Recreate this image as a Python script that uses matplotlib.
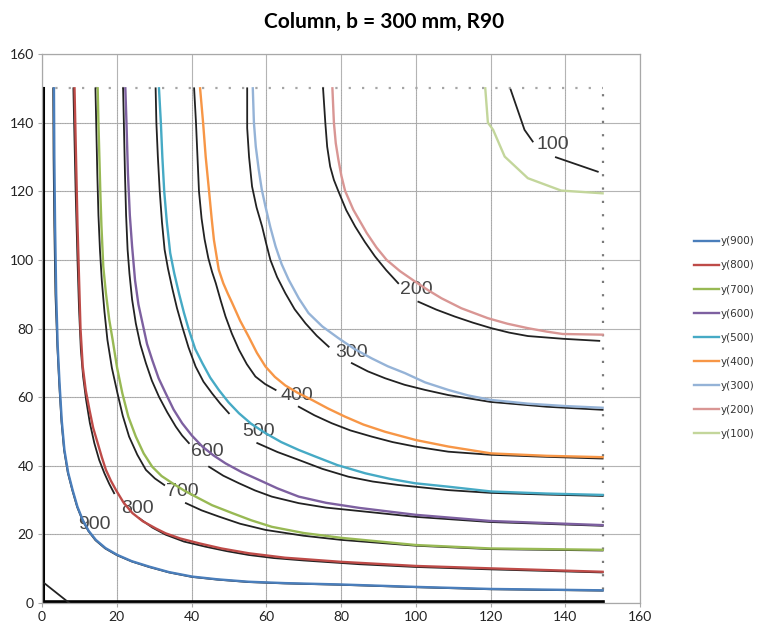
import numpy as np
import matplotlib
matplotlib.use("Agg")
from matplotlib import pyplot as plt

# coloured curves y(N)
y900_x = [3.2, 3.3, 3.5, 3.8, 4.2, 4.7, 5.3, 6.0, 7.0, 8.2, 9.5, 10.9, 12.5, 14.4, 17.0, 20.2, 24.0, 28.7, 34.0, 40.2, 47.0, 55.3, 65, 80, 100, 120, 150]
y900_y = [150, 130, 110, 90, 75, 64, 53, 44.6, 38, 32.9, 28, 24.2, 21, 18.4, 16, 14.0, 12.2, 10.6, 9.0, 7.7, 6.9, 6.2, 5.8, 5.4, 4.7, 4.1, 3.7]
y800_x = [8.7, 8.9, 9.2, 9.5, 9.9, 10.3, 10.9, 11.7, 12.7, 13.7, 14.9, 16.0, 17.1, 18.4, 19.8, 21.8, 24.2, 27.0, 30.5, 33.1, 37, 42, 48, 55.3, 65, 80, 100, 120, 150]
y800_y = [150, 140, 125, 110, 95, 80, 68.9, 62, 56.3, 51, 46.6, 42.5, 38.8, 35.7, 32.9, 29.3, 26.2, 23.8, 21.7, 20.3, 18.8, 17.4, 15.9, 14.5, 13.2, 12.0, 10.8, 10.1, 9.1]
y700_x = [14.9, 15.1, 15.4, 15.6, 15.9, 16.4, 17.1, 18.0, 18.9, 20.1, 21.5, 23.1, 25.1, 27.2, 29.5, 32.0, 34.9, 38.0, 41.1, 45.5, 50.9, 56, 61.5, 70, 80, 100, 120, 150]
y700_y = [150, 140, 128, 120, 110, 98, 90.3, 82.5, 76.7, 68.5, 61.1, 54.3, 48.5, 43.6, 39.7, 37.0, 34.9, 32.8, 31.0, 28.5, 26.2, 24.1, 22.2, 20.4, 19.0, 16.9, 15.9, 15.5]
y600_x = [22.3, 22.6, 23.0, 23.5, 24.1, 24.9, 25.8, 26.9, 28.1, 29.5, 31.2, 33.1, 35.2, 37.5, 40.1, 42.9, 45.9, 49.1, 53.5, 58, 63, 68.7, 76, 85, 100, 120, 150]
y600_y = [150, 140, 125, 113, 104, 94, 87, 81.5, 75.5, 70.8, 65.5, 61.1, 56.4, 52.4, 48.8, 45.6, 43.0, 40.7, 38.1, 35.9, 33.4, 31.0, 29.2, 27.7, 25.7, 23.9, 22.7]
y500_x = [31.3, 31.8, 32.2, 32.7, 33.4, 34.3, 35.4, 36.7, 38.0, 39.3, 41.0, 42.9, 45.0, 47.3, 49.9, 52.7, 56.0, 59.8, 64, 68.7, 73.1, 79, 86.5, 93, 99.8, 108.7, 120.2, 135, 150]
y500_y = [150, 140, 130, 120, 111, 102, 96, 90, 84.5, 79.6, 74, 69.9, 65.7, 62.1, 58.5, 55.3, 52.2, 49.5, 46.9, 44.6, 42.7, 40.2, 37.8, 36.2, 34.9, 33.9, 32.5, 31.9, 31.5]
y400_x = [42.3, 43.1, 43.8, 44.7, 45.4, 46.0, 47.3, 48.5, 49.7, 50.9, 53.0, 55.3, 57.5, 59.8, 62.3, 65.1, 68.5, 72.2, 76.5, 81.1, 86, 91.8, 100, 108.7, 120.2, 135, 150]
y400_y = [150, 140, 130, 120, 112, 105.8, 97.1, 93.2, 90.2, 87.4, 82.3, 77.6, 72.9, 68.9, 65.9, 63.4, 61.2, 59.2, 56.7, 54.3, 52.0, 49.9, 47.5, 45.6, 43.6, 42.9, 42.5]
y300_x = [56.4, 56.7, 57.2, 58.0, 58.8, 59.8, 61.1, 62.5, 64.1, 66.0, 68.7, 71.3, 75.0, 79.3, 83.5, 88.2, 92.5, 97.1, 102.5, 108.7, 114, 120, 130, 140, 150]
y300_y = [150, 140, 133, 126.2, 120.5, 115.5, 109.5, 103.9, 98.8, 94.2, 88.8, 84.5, 80.6, 77.2, 74.1, 71.3, 69.0, 67.0, 64.3, 62.1, 60.5, 59.2, 58.1, 57.4, 56.9]
y200_x = [77.7, 78.1, 78.6, 79.3, 80.1, 81.1, 83.3, 86.9, 89.5, 92.2, 95.8, 99.8, 103.4, 106.9, 112.2, 119.3, 124.5, 130, 135, 139.3, 150]
y200_y = [150, 140, 134, 129.2, 124.5, 120.1, 114.6, 107.8, 103.6, 100, 96.7, 93.7, 91.1, 88.8, 85.9, 83.0, 81.4, 80.1, 79.1, 78.4, 78.2]
y100_x = [118.6, 119.3, 120.7, 123.8, 130, 138.9, 150]
y100_y = [150, 140, 137.9, 130.1, 123.8, 120.2, 119.4]

series_names = ["y(900)", "y(800)", "y(700)", "y(600)", "y(500)",
                "y(400)", "y(300)", "y(200)", "y(100)"]
series_x = [y900_x, y800_x, y700_x, y600_x, y500_x, y400_x, y300_x, y200_x, y100_x]
series_y = [y900_y, y800_y, y700_y, y600_y, y500_y, y400_y, y300_y, y200_y, y100_y]
colours = ["#4a7ebb", "#be4b48", "#98b954", "#7d60a0", "#46aac5",
           "#f79646", "#95b3d7", "#d99694", "#c3d69b"]

# black contour lines underneath (broken where the label sits)
c900 = [([3.0, 3.1, 3.3, 3.6, 4.1, 4.6, 5.2, 5.9, 6.9, 8.1, 9.4, 10.8, 12.4, 14.3, 16.9, 20.1, 24, 28.6, 34, 40.1, 47, 55.2, 65, 80, 100, 120, 150],
         [150, 130, 110, 90, 75, 64, 53, 44.6, 38, 32.9, 28, 24.2, 21, 18.3, 15.9, 13.9, 12.1, 10.5, 8.9, 7.6, 6.8, 6.1, 5.7, 5.3, 4.6, 4.0, 3.6])]
c800 = [([8.4, 8.6, 9.0, 9.5, 9.9, 10.4, 11.0, 11.8, 12.8, 14.0, 15.3, 16.7, 18.0, 19.3],
         [150, 140, 120, 100, 86, 73.8, 66, 59.2, 52.5, 46.6, 41.7, 37.8, 34.7, 32.0]),
        ([26.0, 29.5, 33.1, 38, 43.8, 49.5, 55.3, 62, 70, 85, 100, 120, 150],
         [24.7, 22.0, 19.9, 17.9, 16.4, 15.1, 14.0, 13.1, 12.4, 11.3, 10.5, 9.8, 8.9])]
c700 = [([14.3, 14.5, 14.8, 15.1, 15.5, 16.0, 16.7, 17.5, 18.7, 20.2, 21.6, 23.3, 25.5, 27.8, 30.2, 32.7],
         [150, 140, 125, 113, 103, 94, 85, 76.7, 68.5, 61.1, 54.6, 48.5, 43.2, 38.8, 36.3, 34.4]),
        ([38.5, 42.7, 47.3, 53, 59.8, 70, 80, 100, 120, 150],
         [29.1, 27.0, 25.2, 23.1, 21.3, 19.6, 18.4, 16.7, 15.7, 15.3])]
c600 = [([21.7, 21.9, 22.2, 22.5, 22.9, 23.4, 24.1, 25.1, 26.3, 27.8, 29.4, 31.3, 33.5, 35.8, 37.5, 39.3],
         [150, 140, 125, 113, 103, 96, 88.5, 81.5, 75.4, 69.9, 64.8, 60.1, 55.6, 51.4, 48.8, 46.6]),
        ([44.7, 48.5, 52.7, 57, 61.5, 68.7, 76, 85, 100, 120, 150],
         [39.7, 37.1, 34.9, 32.8, 31.0, 29.1, 27.8, 26.8, 25.1, 23.6, 22.5])]
c500 = [([30.4, 30.6, 31.0, 31.5, 32.1, 32.8, 33.7, 34.9, 36.1, 37.5, 39.2, 41.1, 43.2, 45.5, 47.7, 50.0],
         [150, 140, 130, 120, 111, 103, 97.5, 91.5, 86, 80.6, 74.5, 68.9, 64.5, 61.1, 58.1, 55.3]),
        ([57.6, 63, 68.7, 75, 82.0, 88.5, 95.3, 108.7, 120, 135, 150],
         [46.6, 44.0, 41.7, 39.1, 36.8, 35.4, 34.4, 32.9, 32.1, 31.6, 31.2])]
c400 = [([40.7, 41.2, 41.6, 42.0, 42.7, 43.5, 44.5, 45.5, 46.5, 47.8, 49.1, 50.8, 52.7, 54.8, 57.1, 59.7, 62.5],
         [150, 140, 130, 120, 112, 106, 100.5, 96.5, 93.2, 88.2, 83.5, 78.5, 73.8, 69.6, 66.0, 63.8, 62.1]),
        ([68.7, 72.9, 77.5, 82.5, 88.2, 93.8, 99.8, 108.7, 120, 135, 150],
         [57.2, 54.7, 52.4, 50.3, 48.5, 46.9, 45.6, 44.1, 43.2, 42.6, 42.1])]
c300 = [([54.9, 54.9, 55.4, 56.2, 57.4, 58.9, 60.0, 61.1, 62.9, 65.1, 67.6, 70.5, 73.5, 76.7],
         [150, 138.4, 130, 121.4, 115.3, 109.7, 104.7, 100, 95, 90.3, 85.6, 81.5, 77.9, 74.7]),
        ([82.9, 87.2, 91.8, 97, 102.5, 108.7, 120, 135, 150],
         [69.9, 67.5, 65.5, 63.6, 62.1, 60.6, 58.6, 57.2, 56.3])]
c200 = [([75.2, 75.8, 76.3, 77.1, 78.1, 79.3, 81.4, 83.8, 86.4, 89.1, 92.1, 95.3],
         [150, 140, 133, 127.2, 123.3, 120, 114.5, 109.7, 105.2, 101, 97, 93.2]),
        ([100.7, 105.5, 110.4, 115.3, 120.2, 125, 130, 139.4, 149.1],
         [87.8, 85.5, 83.5, 81.7, 80.1, 78.8, 77.8, 77.0, 76.4])]
c100 = [([125.4, 129.1, 131.3], [149.6, 137.9, 134.5]),
        ([137.5, 148.7], [129.9, 125.7])]
contours = [c900, c800, c700, c600, c500, c400, c300, c200, c100]

label_text = ["900", "800", "700", "600", "500", "400", "300", "200", "100"]
label_x = [14.0, 25.5, 37.5, 44.2, 58.0, 68.2, 82.8, 100.1, 136.7]
label_y = [23.0, 27.6, 32.5, 44.1, 49.9, 60.6, 72.9, 91.3, 133.5]

ticks = [0, 20, 40, 60, 80, 100, 120, 140, 160]

fig = plt.figure(figsize=(7.58, 6.23), dpi=100)
ax = fig.add_axes([42 / 758, 1 - 603 / 623, 598 / 758, 549 / 623])

ax.set_xlim(0, 160)
ax.set_ylim(0, 160)
ax.set_xticks(ticks)
ax.set_yticks(ticks)
ax.tick_params(labelsize=10, labelcolor="#222222", color="#aaaaaa", length=3, pad=3)
for lab in ax.get_xticklabels() + ax.get_yticklabels():
    lab.set_family("Lato")
for sp in ax.spines.values():
    sp.set_color("#a8a8a8")
    sp.set_linewidth(0.9)
ax.grid(True, color="#b4b4b4", linewidth=0.8)
ax.set_axisbelow(True)

# dotted grid of the underlying drawing
for g in ticks[1:-1]:
    ax.plot([g, g], [0, 150], color="#a0a0a0", lw=0.6, ls=(0, (1, 2)), zorder=1)
    ax.plot([0, 150], [g, g], color="#a0a0a0", lw=0.6, ls=(0, (1, 2)), zorder=1)
ax.plot([0, 150], [150, 150], color="#a5a5a5", lw=1.6, ls=(0, (1, 5)), zorder=1)
ax.plot([150, 150], [0, 150], color="#7a7a7a", lw=1.6, ls=(0, (1, 5)), zorder=1)

# frame of the underlying drawing
ax.plot([0.4, 0.4], [0, 150], color="black", lw=2.2, zorder=2)
ax.plot([0, 150], [0.4, 0.4], color="black", lw=2.6, zorder=2)
ax.plot([0.7, 7.3], [5.7, 0], color="#222222", lw=1.3, zorder=2)

for segs in contours:
    for sx, sy in segs:
        ax.plot(sx, sy, color="#222222", lw=1.3, zorder=3)

for t, lx, ly in zip(label_text, label_x, label_y):
    ax.text(lx, ly, t, fontsize=14, color="#454545", ha="center", va="center",
            family="Liberation Sans", zorder=4)

for name, xs, ys, c in zip(series_names, series_x, series_y, colours):
    ax.plot(xs, ys, color=c, lw=1.7, label=name, zorder=5)

fig.legend(*ax.get_legend_handles_labels(), loc="center left",
           bbox_to_anchor=(694 / 758, 0.458), frameon=False, fontsize=7.5,
           handlelength=2.4, handletextpad=0.15, labelspacing=1.35,
           borderpad=0, borderaxespad=0, labelcolor="#333333")

fig.text(384 / 758, 1 - 22 / 623, "Column, b = 300 mm, R90", ha="center", va="center",
         fontsize=15, fontweight="bold", family="Lato")

fig.savefig("out.png", dpi=100)
